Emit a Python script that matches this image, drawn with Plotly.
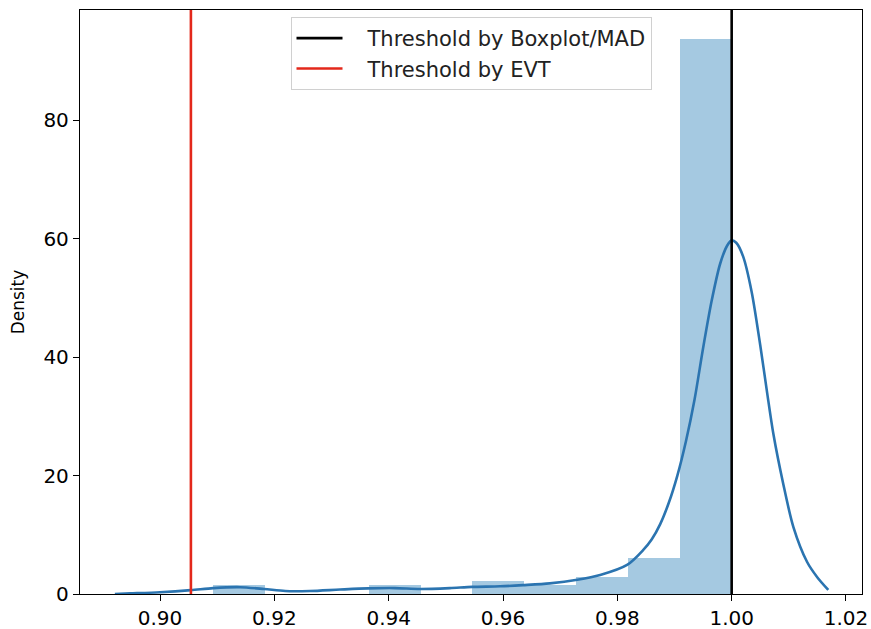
import numpy as np
import plotly.graph_objects as go

# Histogram of the scores (density-normalised), 10 equal bins over the data range
bin_start = 0.9093
bin_end = 1.0
bin_count = 10
bin_density = [1.6, 0.0, 0.0, 1.6, 0.0, 2.2, 1.5, 2.9, 6.1, 93.7]

# Kernel density estimate of the same scores
kde_x = [0.8921, 0.8948, 0.9000, 0.9054, 0.9093, 0.9140, 0.9182, 0.9219,
         0.9262, 0.9315, 0.9364, 0.9411, 0.9455, 0.9507, 0.9546, 0.9595,
         0.9635, 0.9682, 0.9730, 0.9770, 0.9817, 0.9845, 0.9860, 0.9875,
         0.9890, 0.9905, 0.9920, 0.9935, 0.9950, 0.9965, 0.9980, 0.9992,
         1.0000, 1.0008, 1.0020, 1.0035, 1.0050, 1.0062, 1.0073, 1.0090,
         1.0108, 1.0132, 1.0150, 1.0169]
kde_y = [0.0, 0.1, 0.3, 0.65, 1.0, 1.15, 0.85, 0.5,
         0.5, 0.75, 0.95, 1.0, 0.85, 1.0, 1.2, 1.3,
         1.5, 1.8, 2.4, 3.2, 4.9, 7.4, 9.2, 11.8,
         15.4, 20.0, 25.8, 32.8, 41.5, 49.5, 55.8, 58.8,
         59.7, 59.3, 57.0, 51.0, 42.0, 34.0, 27.0, 18.7,
         11.3, 5.4, 2.8, 0.7]

# Decision thresholds
threshold_boxplot = 1.0
threshold_evt = 0.9054

x_ticks = [0.90, 0.92, 0.94, 0.96, 0.98, 1.00, 1.02]
y_ticks = [0, 20, 40, 60, 80]

edges = np.linspace(bin_start, bin_end, bin_count + 1)
centers = (edges[:-1] + edges[1:]) / 2
widths = np.diff(edges)

fig = go.Figure()

fig.add_trace(go.Bar(
    x=centers, y=bin_density, width=widths,
    marker=dict(color="rgba(31,119,180,0.4)", line=dict(width=0)),
    showlegend=False, hoverinfo="skip",
))

fig.add_trace(go.Scatter(
    x=kde_x, y=kde_y, mode="lines",
    line=dict(color="#2b74b0", width=2.6, shape="spline", smoothing=0.8),
    showlegend=False, hoverinfo="skip",
))

gap = "\u00a0\u00a0\u00a0"
fig.add_shape(type="line", xref="x", yref="paper",
              x0=threshold_boxplot, x1=threshold_boxplot, y0=0, y1=1,
              line=dict(color="black", width=2.6),
              showlegend=True, name=gap + "Threshold by Boxplot/MAD", legendrank=1)
fig.add_shape(type="line", xref="x", yref="paper",
              x0=threshold_evt, x1=threshold_evt, y0=0, y1=1,
              line=dict(color="#e3281b", width=2.6),
              showlegend=True, name=gap + "Threshold by EVT", legendrank=2)

axis_common = dict(
    showline=True, linecolor="black", linewidth=1.3, mirror=True,
    ticks="outside", ticklen=6, tickwidth=1.3, tickcolor="black",
    showgrid=False, zeroline=False, automargin=False,
    tickfont=dict(family="DejaVu Sans", size=20, color="black"),
)

fig.update_xaxes(range=[0.8860, 1.0228], tickvals=x_ticks,
                 ticktext=[f"{t:.2f}" for t in x_ticks], **axis_common)
fig.update_yaxes(range=[0, 98.6], tickvals=y_ticks,
                 title=dict(text="Density", standoff=14,
                            font=dict(family="DejaVu Sans", size=17, color="black")),
                 **axis_common)

fig.update_layout(
    width=871, height=629,
    margin=dict(l=80, r=9, t=10, b=35),
    plot_bgcolor="white", paper_bgcolor="white",
    bargap=0,
    font=dict(family="DejaVu Sans", size=16, color="black"),
    legend=dict(
        x=0.5, xanchor="center", y=0.988, yanchor="top",
        bgcolor="white", bordercolor="#d0d0d0", borderwidth=1,
        font=dict(family="DejaVu Sans", size=21, color="#222"),
        itemwidth=46,
    ),
)

fig.write_html("out.html")
